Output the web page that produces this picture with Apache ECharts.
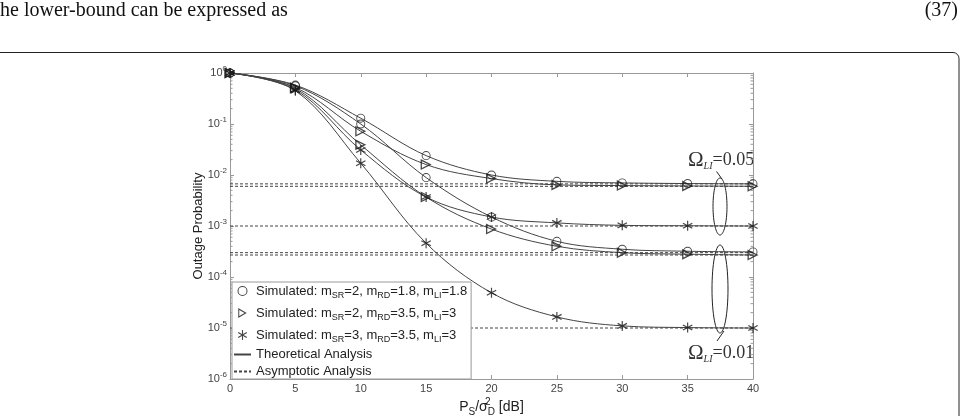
<!DOCTYPE html>
<html>
<head>
<meta charset="utf-8">
<script src="https://cdn.jsdelivr.net/npm/echarts@6/dist/echarts.min.js"></script>
<style>
  html, body { margin: 0; padding: 0; background: #fff; }
  #chart { width: 960px; height: 416px; }
</style>
</head>
<body>
<div id="chart"></div>
<script>
// SNR points (dB)
const snrLine = [0, 5, 10, 15, 20, 25, 30, 35, 40]
const snrSim = [0, 5, 10, 15, 20, 25, 30, 35, 40]

// theoretical curves, Omega_LI = 0.05
const theoCircle05 = [1, 0.58, 0.13, 0.024, 0.0100, 0.0075, 0.0070, 0.0068, 0.0067]
const theoTri05 = [1, 0.52, 0.072, 0.016, 0.0085, 0.0064, 0.0062, 0.0061, 0.0060]
const theoStar05 = [1, 0.47, 0.031, 0.0037, 0.0015, 0.00115, 0.00103, 0.00101, 0.0010]
// theoretical curves, Omega_LI = 0.01
const theoCircle01 = [1, 0.56, 0.10, 0.0089, 0.0015, 0.00050, 0.00035, 0.00032, 0.00031]
const theoTri01 = [1, 0.50, 0.039, 0.0037, 0.00087, 0.00040, 0.00030, 0.00028, 0.00027]
const theoStar01 = [1, 0.45, 0.017, 0.00046, 0.000049, 0.0000165, 0.000011, 0.0000102, 0.0000100]

// simulated points
const simCircle05 = [1, 0.58, 0.13, 0.024, 0.0100, 0.0075, 0.0070, 0.0068, 0.0067]
const simTri05 = [1, 0.52, 0.072, 0.016, 0.0085, 0.0064, 0.0062, 0.0061, 0.0060]
const simStar05 = [1, 0.47, 0.031, 0.0037, 0.0015, 0.00115, 0.00103, 0.00101, 0.0010]
const simCircle01 = [1, 0.56, 0.10, 0.0089, 0.0015, 0.00050, 0.00035, 0.00032, 0.00031]
const simTri01 = [1, 0.50, 0.039, 0.0037, 0.00087, 0.00040, 0.00030, 0.00028, 0.00027]
const simStar01 = [1, 0.45, 0.017, 0.00046, 0.000049, 0.0000165, 0.000011, 0.0000102, 0.0000100]

// asymptotes
const asymptotes = [0.0067, 0.0060, 0.0010, 0.00030, 0.00027, 0.00001]

// legend parameters
const mSR = [2, 2, 3]
const mRD = [1.8, 3.5, 3.5]
const mLI = [1.8, 3, 3]

// log axis minor ticks
const decades = [1e-6, 1e-5, 1e-4, 1e-3, 1e-2, 1e-1]
const minorSteps = [2, 3, 4, 5, 6, 7, 8, 9]

const FONT = '"Liberation Sans", Arial, sans-serif'
const SERIF = '"Liberation Serif", "Times New Roman", serif'
const LINE_COLOR = '#444'
const MARK_COLOR = '#1a1a1a'
const AXIS_COLOR = '#999'

// 空心圆 / 右三角 / 星号 标记
const ringPath = 'path://M10,0 A10,10 0 1,1 10,20 A10,10 0 1,1 10,0 Z' +
  'M10,2 A8,8 0 1,0 10,18 A8,8 0 1,0 10,2 Z'
const triPath = 'path://M0,0 L17,10 L0,20 Z M2,3.8 L2,16.2 L12.6,10 Z'
const starPath = 'path://M8.9,0 L11.1,0 L11.1,20 L8.9,20 Z' +
  'M18,3.9 L19.2,6 L2,16.1 L0.8,14 Z' +
  'M2,3.9 L19.2,14 L18,16.1 L0.8,6 Z'

const pair = (xs, ys) => xs.map((x, i) => [x, ys[i]])

function theoSeries (ys) {
  return {
    name: 'Theoretical Analysis',
    type: 'line',
    data: pair(snrLine, ys),
    symbol: 'none',
    smooth: 0.35,
    lineStyle: { color: LINE_COLOR, width: 1 },
    itemStyle: { color: LINE_COLOR },
    z: 3,
    silent: true
  }
}

function simSeries (name, ys, symbol, size) {
  return {
    name: name,
    type: 'scatter',
    data: pair(snrSim, ys),
    symbol: symbol,
    symbolSize: size,
    itemStyle: { color: MARK_COLOR },
    z: 5,
    silent: true
  }
}

const minorTickData = []
decades.forEach(d => minorSteps.forEach(m => minorTickData.push([0, d * m])))

const simIndex = { sim1: 0, sim2: 1, sim3: 2 }

const chart = echarts.init(document.getElementById('chart'))

const option = {
  animation: false,
  grid: { left: 230, right: 207, top: 73, bottom: 37, outerBoundsMode: 'none', containLabel: false },
  xAxis: [
    {
      type: 'value',
      min: 0,
      max: 40,
      interval: 5,
      position: 'bottom',
      axisLine: { onZero: false, lineStyle: { color: AXIS_COLOR } },
      axisTick: { inside: true, length: 4, lineStyle: { color: AXIS_COLOR } },
      axisLabel: { color: '#444', fontSize: 11, fontFamily: FONT, margin: 4 },
      splitLine: { show: false },
      name: '{n|P}{s|S}{n|/σ}{u|2}{s|D}{n| [dB]}',
      nameLocation: 'middle',
      nameGap: 18,
      nameMoveOverlap: false,
      nameTextStyle: {
        rich: {
          n: { fontSize: 14, fontFamily: FONT, color: '#222', lineHeight: 20 },
          s: { fontSize: 10, fontFamily: FONT, color: '#222', lineHeight: 10, verticalAlign: 'bottom' },
          u: { fontSize: 10, fontFamily: FONT, color: '#222', lineHeight: 10, verticalAlign: 'top', width: 0 }
        }
      }
    },
    {
      type: 'value',
      min: 0,
      max: 40,
      interval: 5,
      position: 'top',
      axisLine: { onZero: false, lineStyle: { color: AXIS_COLOR } },
      axisTick: { inside: true, length: 4, lineStyle: { color: AXIS_COLOR } },
      axisLabel: { show: false },
      splitLine: { show: false }
    }
  ],
  yAxis: [
    {
      type: 'log',
      logBase: 10,
      min: 1e-6,
      max: 1,
      splitNumber: 6,
      position: 'left',
      axisLine: { onZero: false, lineStyle: { color: AXIS_COLOR } },
      axisTick: { inside: true, length: 4, lineStyle: { color: AXIS_COLOR } },
      axisLabel: {
        margin: 3,
        formatter: function (v) {
          return '{b|10}{p|' + Math.round(Math.log10(v)) + '}'
        },
        rich: {
          b: { fontSize: 11, fontFamily: FONT, color: '#444', lineHeight: 16 },
          p: { fontSize: 8, fontFamily: FONT, color: '#444', lineHeight: 8, verticalAlign: 'top' }
        }
      },
      splitLine: { show: false },
      name: 'Outage Probability',
      nameLocation: 'middle',
      nameGap: 25,
      nameMoveOverlap: false,
      nameTextStyle: { fontSize: 13, fontFamily: FONT, color: '#222' }
    },
    {
      type: 'log',
      logBase: 10,
      min: 1e-6,
      max: 1,
      splitNumber: 6,
      position: 'right',
      axisLine: { onZero: false, lineStyle: { color: AXIS_COLOR } },
      axisTick: { inside: true, length: 4, lineStyle: { color: AXIS_COLOR } },
      axisLabel: { show: false },
      splitLine: { show: false }
    }
  ],
  legend: {
    data: [
      { name: 'sim1', icon: ringPath },
      { name: 'sim2', icon: triPath },
      { name: 'sim3', icon: starPath },
      { name: 'Theoretical Analysis', itemStyle: { opacity: 0 } },
      { name: 'Asymptotic Analysis', itemStyle: { opacity: 0 } }
    ],
    orient: 'vertical',
    left: 232,
    top: 282,
    itemWidth: 17,
    itemHeight: 10,
    itemGap: 4,
    padding: [0, 4, 1, 1],
    backgroundColor: '#fff',
    borderColor: AXIS_COLOR,
    borderWidth: 1,
    selectedMode: false,
    textStyle: {
      fontSize: 13,
      fontFamily: FONT,
      color: '#222',
      lineHeight: 13,
      rich: {
        n: { fontSize: 13, fontFamily: FONT, color: '#222', lineHeight: 18 },
        s: { fontSize: 9, fontFamily: FONT, color: '#222', lineHeight: 8, verticalAlign: 'bottom' }
      }
    },
    formatter: function (name) {
      if (!(name in simIndex)) return name
      const i = simIndex[name]
      return '{n|Simulated: m}{s|SR}{n|=' + mSR[i] + ', m}{s|RD}{n|=' + mRD[i] + ', m}{s|LI}{n|=' + mLI[i] + '}'
    }
  },
  series: [
    {
      type: 'custom',
      silent: true,
      data: minorTickData,
      encode: { x: 0, y: 1 },
      clip: false,
      z: 1,
      renderItem: function (params, api) {
        const l = api.coord([0, api.value(1)])
        const r = api.coord([40, api.value(1)])
        return {
          type: 'group',
          children: [
            { type: 'line', shape: { x1: l[0], y1: l[1], x2: l[0] + 2.5, y2: l[1] }, style: { stroke: AXIS_COLOR, lineWidth: 1 } },
            { type: 'line', shape: { x1: r[0] - 2.5, y1: r[1], x2: r[0], y2: r[1] }, style: { stroke: AXIS_COLOR, lineWidth: 1 } }
          ]
        }
      }
    },
    ...asymptotes.map(v => ({
      name: 'Asymptotic Analysis',
      type: 'line',
      data: [[0, v], [40, v]],
      symbol: 'none',
      lineStyle: { color: LINE_COLOR, width: 1, type: [3, 2] },
      itemStyle: { color: LINE_COLOR },
      z: 2,
      silent: true
    })),
    theoSeries(theoCircle05),
    theoSeries(theoTri05),
    theoSeries(theoStar05),
    theoSeries(theoCircle01),
    theoSeries(theoTri01),
    theoSeries(theoStar01),
    simSeries('sim1', simCircle05, ringPath, 9),
    simSeries('sim1', simCircle01, ringPath, 9),
    simSeries('sim2', simTri05, triPath, 11),
    simSeries('sim2', simTri01, triPath, 11),
    simSeries('sim3', simStar05, starPath, 10),
    simSeries('sim3', simStar01, starPath, 10)
  ],
  graphic: [
    {
      type: 'text',
      x: 0,
      y: 11,
      style: { text: 'he lower-bound can be expressed as', font: '20px ' + SERIF, fill: '#111', verticalAlign: 'middle' }
    },
    {
      type: 'text',
      x: 958,
      y: 11,
      style: { text: '(37)', font: '20px ' + SERIF, fill: '#111', align: 'right', verticalAlign: 'middle' }
    },
    {
      type: 'rect',
      shape: { x: -20, y: 52.5, width: 979, height: 420, r: 6 },
      style: { fill: 'none', stroke: '#222', lineWidth: 1 }
    },
    // Omega_LI annotations
    {
      type: 'text',
      x: 688,
      y: 160,
      style: {
        text: '{o|Ω}{s|LI}{n|=0.05}',
        verticalAlign: 'middle',
        rich: {
          o: { fontSize: 21, fontFamily: SERIF, fill: '#333', lineHeight: 22 },
          s: { fontSize: 10, fontFamily: SERIF, fontStyle: 'italic', fill: '#333', lineHeight: 10, verticalAlign: 'bottom' },
          n: { fontSize: 18, fontFamily: SERIF, fill: '#333', lineHeight: 22 }
        }
      }
    },
    {
      type: 'text',
      x: 688,
      y: 353,
      style: {
        text: '{o|Ω}{s|LI}{n|=0.01}',
        verticalAlign: 'middle',
        rich: {
          o: { fontSize: 21, fontFamily: SERIF, fill: '#333', lineHeight: 22 },
          s: { fontSize: 10, fontFamily: SERIF, fontStyle: 'italic', fill: '#333', lineHeight: 10, verticalAlign: 'bottom' },
          n: { fontSize: 18, fontFamily: SERIF, fill: '#333', lineHeight: 22 }
        }
      }
    },
    {
      type: 'ellipse',
      shape: { cx: 720, cy: 206.5, rx: 7, ry: 28.5 },
      style: { fill: 'none', stroke: '#222', lineWidth: 1 }
    },
    {
      type: 'line',
      shape: { x1: 716.5, y1: 171.5, x2: 722, y2: 179 },
      style: { stroke: '#222', lineWidth: 1 }
    },
    {
      type: 'ellipse',
      shape: { cx: 720, cy: 289, rx: 8, ry: 44 },
      style: { fill: 'none', stroke: '#222', lineWidth: 1 }
    },
    {
      type: 'line',
      shape: { x1: 724, y1: 331, x2: 717, y2: 341 },
      style: { stroke: '#222', lineWidth: 1 }
    }
  ]
}

chart.setOption(option)
</script>
</body>
</html>
